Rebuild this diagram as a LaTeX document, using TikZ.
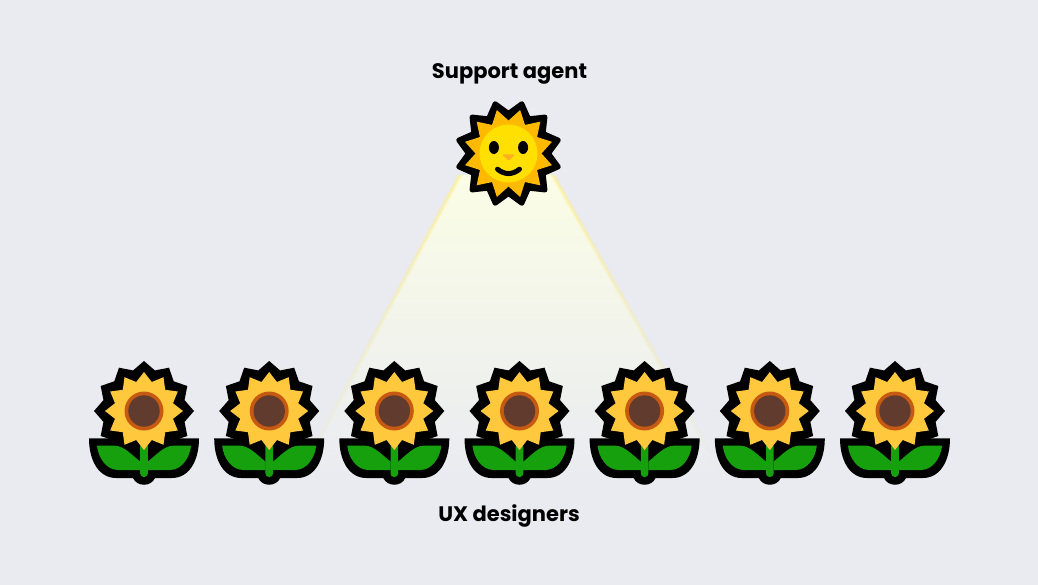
\documentclass[tikz,border=0pt]{standalone}
\usepackage{fontspec}
\setmainfont{Poppins}
\usetikzlibrary{calc}
\definecolor{pagebg}{RGB}{233,235,241}
\definecolor{beamtop}{RGB}{251,253,230}
\definecolor{beamedge}{RGB}{255,240,140}
\definecolor{sunpetal}{RGB}{255,185,0}
\definecolor{sunface}{RGB}{255,224,0}
\definecolor{sunnose}{RGB}{255,176,30}
\definecolor{petal}{RGB}{255,200,61}
\definecolor{discring}{RGB}{198,90,18}
\definecolor{disc}{RGB}{98,59,47}
\definecolor{leaf}{RGB}{22,160,14}
\tikzset{
  caption/.style={font=\bfseries\fontsize{21}{24}\selectfont, text=black, inner sep=0pt},
  pics/sunflower/.style={code={
    \fill[black] (-55,27.3) -- (55,27.3)
      .. controls (55,50) and (45,67) .. (28,67)
      -- (11,67) .. controls (7,76) and (-7,76) .. (-11,67) -- (-28,67)
      .. controls (-45,67) and (-55,50) .. (-55,27.3) -- cycle;
    \fill[black] plot[samples at={0,...,23}, variable=\k]
      ({(mod(\k,2)==0?50:42)*cos(15*\k)}, {(mod(\k,2)==0?50:42)*sin(15*\k)}) -- cycle;
    \fill[leaf] (-47,34.7) -- (-29,34.7) .. controls (-20,35) and (-12,44) .. (-3.7,50.7)
      -- (-3.7,59) -- (-26,59) .. controls (-38,59) and (-46,46) .. (-47,34.7) -- cycle;
    \fill[leaf] (47,34.7) -- (29,34.7) .. controls (20,35) and (12,44) .. (3.7,50.7)
      -- (3.7,59) -- (26,59) .. controls (38,59) and (46,46) .. (47,34.7) -- cycle;
    \fill[leaf, rounded corners=3.5] (-3.8,32) rectangle (3.8,66);
    \fill[petal] plot[samples at={0,...,23}, variable=\k]
      ({(mod(\k,2)==0?39:30)*cos(15*\k)}, {(mod(\k,2)==0?39:30)*sin(15*\k)}) -- cycle;
    \fill[discring] (0,0) circle (19.5);
    \fill[disc] (0,0) circle (15.7);
  }},
}
\begin{document}
\begin{tikzpicture}[x=1pt,y=-1pt]
  \useasboundingbox[fill=pagebg] (0,0) rectangle (1038,585);

  \coordinate (beamL) at (460,175);
  \coordinate (beamR) at (553,175);
  \coordinate (beamBL) at (297,480);
  \coordinate (beamBR) at (726,480);
  \shade[top color=beamtop, bottom color=pagebg] (beamL) -- (beamR) -- (beamBR) -- (beamBL) -- cycle;
  \foreach \w/\o in {3/0.2,1.8/0.3,0.9/0.5} {
    \shade[top color=beamedge, middle color=beamedge!20!pagebg, bottom color=pagebg, opacity=\o] ($(beamL)+(\w,0)$) -- ($(beamBL)+(\w,0)$) -- ($(beamBL)+(-\w,0)$) -- ($(beamL)+(-\w,0)$) -- cycle;
    \shade[top color=beamedge, middle color=beamedge!20!pagebg, bottom color=pagebg, opacity=\o] ($(beamR)+(\w,0)$) -- ($(beamBR)+(\w,0)$) -- ($(beamBR)+(-\w,0)$) -- ($(beamR)+(-\w,0)$) -- cycle;
  }

  \node[caption] (agent) at (509.5,73.5) {Support agent};
  \node[caption] (designers) at (509,515.5) {UX designers};

  % agent
  \begin{scope}[shift={(508.5,153.5)}]
    \filldraw[black, line width=5, line join=round]
      plot[samples at={0,...,23}, variable=\k]
        ({(mod(\k,2)==0?51.5:40)*cos(15+15*\k)}, {(mod(\k,2)==0?51.5:40)*sin(15+15*\k)}) -- cycle;
    \fill[sunpetal]
      plot[samples at={0,...,23}, variable=\k]
        ({(mod(\k,2)==0?45:33)*cos(15+15*\k)}, {(mod(\k,2)==0?45:33)*sin(15+15*\k)}) -- cycle;
    \fill[sunface] (0,0) circle (29);
    \fill[black] (-14.6,-6) ellipse (5 and 6.5);
    \fill[black] (14.6,-6) ellipse (5 and 6.5);
    \fill[sunnose, rounded corners=1.5] (-6.5,1) -- (6.5,1) -- (0,7.5) -- cycle;
    \draw[black, line width=5, line cap=round] (-11,15.7) .. controls (-4,21.5) and (4,21.5) .. (11,15.7);
  \end{scope}

  % designers
  \foreach \x in {144,269.2,394.3,519.5,644.6,769.8,895} {
    \pic at (\x,411) {sunflower};
  }
\end{tikzpicture}
\end{document}
